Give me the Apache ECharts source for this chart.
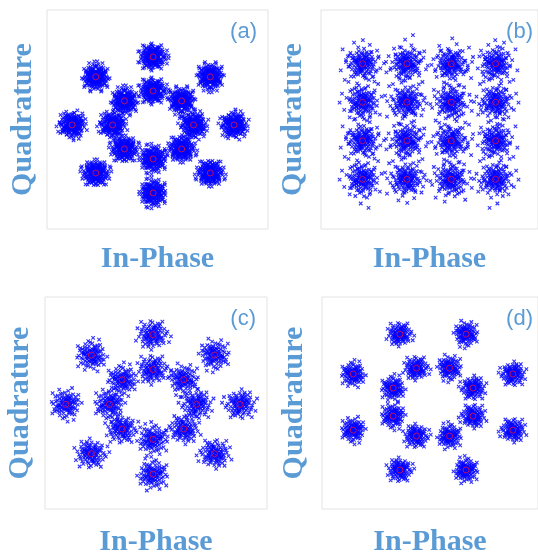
<!DOCTYPE html>
<html>
<head>
<meta charset="utf-8">
<script src="https://cdn.jsdelivr.net/npm/echarts@6/dist/echarts.min.js"></script>
<style>
  html, body { margin: 0; padding: 0; background: #fff; }
  #chart { width: 538px; height: 558px; }
</style>
</head>
<body>
<div id="chart"></div>
<script>
// Ideal constellation points (red circles) for each panel.
const apskPoints = [
  [2, 0], [1.414, 1.414], [0, 2], [-1.414, 1.414], [-2, 0], [-1.414, -1.414], [0, -2], [1.414, -1.414],
  [1, 0], [0.707, 0.707], [0, 1], [-0.707, 0.707], [-1, 0], [-0.707, -0.707], [0, -1], [0.707, -0.707]
];
const qamPoints = [
  [-3, 3], [-1, 3], [1, 3], [3, 3],
  [-3, 1], [-1, 1], [1, 1], [3, 1],
  [-3, -1], [-1, -1], [1, -1], [3, -1],
  [-3, -3], [-1, -3], [1, -3], [3, -3]
];
const apskRotPoints = [
  [1.848, 0.765], [0.765, 1.848], [-0.765, 1.848], [-1.848, 0.765],
  [-1.848, -0.765], [-0.765, -1.848], [0.765, -1.848], [1.848, -0.765],
  [0.924, 0.383], [0.383, 0.924], [-0.383, 0.924], [-0.924, 0.383],
  [-0.924, -0.383], [-0.383, -0.924], [0.383, -0.924], [0.924, -0.383]
];

// Received-symbol scatter around each point, in units of the noise spread.
const noiseOffsets = [
  [0.12,-0.45],[-0.83,0.31],[1.05,0.62],[-0.27,-1.14],[0.58,0.09],[-1.42,-0.36],[0.34,1.27],[-0.66,0.88],[1.73,-0.52],[-0.08,0.17],
  [0.91,-0.97],[-1.16,1.02],[0.22,-0.18],[-0.49,-0.71],[1.31,0.28],[-0.95,-1.38],[0.04,0.76],[0.67,1.63],[-1.87,0.14],[0.43,-1.52],
  [-0.31,0.49],[1.12,-0.23],[-0.72,-0.04],[0.29,0.98],[-1.05,-0.62],[0.81,0.41],[-0.15,-0.89],[1.58,1.11],[-0.58,1.45],[0.17,-0.33],
  [-2.21,-0.48],[0.63,-0.68],[-0.38,0.07],[0.96,0.83],[-1.29,0.57],[0.08,-1.96],[1.41,-1.24],[-0.79,-1.03],[0.51,0.24],[-0.03,1.82],
  [2.14,0.37],[-0.61,-0.27],[0.36,-0.81],[-1.53,0.92],[0.74,-0.11],[-0.19,0.64],[1.19,1.47],[-0.88,0.21],[0.27,-0.57],[-1.11,-1.67],
  [0.55,1.06],[-0.44,-1.21],[1.67,-0.79],[-0.25,0.33],[0.86,0.02],[-1.74,-0.93],[0.11,1.38],[-0.69,0.68],[1.24,-1.61],[-0.12,-0.44],
  [0.47,0.55],[-2.46,1.18],[0.93,-0.41],[-0.33,-1.49],[1.46,0.71],[-0.97,1.71],[0.19,-0.06],[-0.54,-0.58],[2.37,-1.02],[-1.35,0.39],
  [0.71,1.89],[-0.06,-0.97],[1.02,0.49],[-0.84,-0.19],[0.39,-2.17],[-1.63,1.34],[0.14,0.26],[1.88,-0.14],[-0.41,0.97],[0.62,-1.33],
  [-1.21,-1.02],[0.31,0.69],[-0.74,-1.77],[1.36,0.15],[-0.22,-0.31],[0.78,1.24],[-2.02,-0.21],[0.02,0.44],[1.15,-0.63],[-0.57,1.16],
  [2.61,0.94],[-1.44,-2.08],[0.44,-0.29],[-0.91,0.53],[1.53,1.92],[-0.14,-1.18],[0.69,0.37],[-2.75,0.26],[0.25,2.43],[1.81,-2.04]
];

// Noise spread (I, Q) per panel.
const spreadA = [0.14, 0.165];
const spreadB = [0.27, 0.32];
const spreadC = [0.15, 0.18];
const spreadD = [0.12, 0.14];

const panelLabels = ['(a)', '(b)', '(c)', '(d)'];
const xLabel = 'In-Phase';
const yLabel = 'Quadrature';

const TEXT_BLUE = '#5b9bd5';
const MARK_BLUE = '#0000ff';
const CENTER_RED = '#e8123c';
const CROSS = 'path://M0,0L8,8M8,0L0,8';

// The eight symmetries of the square, so neighbouring clusters don't repeat.
const flips = [
  (u, v) => [u, v], (u, v) => [-v, u], (u, v) => [-u, -v], (u, v) => [v, -u],
  (u, v) => [v, u], (u, v) => [-u, v], (u, v) => [-v, -u], (u, v) => [u, -v]
];

// Each layer: which symmetry to start from, how wide, and how many offsets to use.
function cloud(points, spread, layers) {
  const out = [];
  points.forEach((p, i) => {
    layers.forEach(layer => {
      const f = flips[(i + layer.shift) % 8];
      noiseOffsets.slice(0, layer.count).forEach(o => {
        const t = f(o[0], o[1]);
        out.push([p[0] + t[0] * spread[0] * layer.scale, p[1] + t[1] * spread[1] * layer.scale]);
      });
    });
  });
  return out;
}

const panels = [
  { pts: apskPoints, spread: spreadA, rect: [47, 10, 221, 219], x: [-2.62, 2.84], y: [-3.06, 3.38], yGap: 9, xGap: 15,
    layers: [{ shift: 0, scale: 1, count: 100 }, { shift: 3, scale: 1, count: 100 }] },
  { pts: qamPoints, spread: spreadB, rect: [321, 10, 220, 219], x: [-4.87, 4.91], y: [-5.58, 5.79], yGap: 13, xGap: 15,
    layers: [{ shift: 0, scale: 1, count: 100 }, { shift: 5, scale: 2.1, count: 40 }] },
  { pts: apskPoints, spread: spreadC, rect: [45, 297, 222, 219], x: [-2.48, 2.62], y: [-3.0, 3.08], yGap: 10, xGap: 18,
    layers: [{ shift: 0, scale: 1, count: 100 }] },
  { pts: apskRotPoints, spread: spreadD, rect: [322, 297, 219, 219], x: [-2.57, 2.43], y: [-2.91, 2.86], yGap: 13, xGap: 18,
    layers: [{ shift: 0, scale: 1, count: 100 }] }
];

const grid = [], xAxis = [], yAxis = [], series = [], graphic = [];
const nameFont = { fontFamily: 'Liberation Serif', fontWeight: 'bold', fontSize: 30, color: TEXT_BLUE };

panels.forEach((p, k) => {
  const [l, t, w, h] = p.rect;
  grid.push({ left: l, top: t, width: w, height: h, show: true, borderColor: '#e3e3e3', borderWidth: 1, backgroundColor: '#fff' });
  const hidden = { axisLine: { show: false }, axisTick: { show: false }, axisLabel: { show: false }, splitLine: { show: false } };
  xAxis.push(Object.assign({ type: 'value', gridIndex: k, min: p.x[0], max: p.x[1],
    name: xLabel, nameLocation: 'middle', nameGap: p.xGap, nameTextStyle: nameFont }, hidden));
  yAxis.push(Object.assign({ type: 'value', gridIndex: k, min: p.y[0], max: p.y[1],
    name: yLabel, nameLocation: 'middle', nameGap: p.yGap, nameRotate: 90, nameTextStyle: nameFont }, hidden));
  series.push({
    type: 'scatter', xAxisIndex: k, yAxisIndex: k, large: false, progressive: 0, silent: true,
    symbol: CROSS, symbolSize: 3.5,
    itemStyle: { color: MARK_BLUE, borderColor: MARK_BLUE, borderWidth: 1.1 },
    data: cloud(p.pts, p.spread, p.layers)
  });
  series.push({
    type: 'scatter', xAxisIndex: k, yAxisIndex: k, silent: true,
    symbol: 'circle', symbolSize: 6,
    itemStyle: { color: 'transparent', borderColor: CENTER_RED, borderWidth: 1 },
    data: p.pts
  });
  graphic.push({
    type: 'text', right: 538 - (l + w) + (k % 2 ? 8 : 11), top: t + 11,
    style: { text: panelLabels[k], font: '22px "Liberation Sans", Arial, sans-serif', fill: TEXT_BLUE }
  });
});

const chart = echarts.init(document.getElementById('chart'), null, { renderer: 'canvas' });
chart.setOption({ animation: false, backgroundColor: '#fff', grid, xAxis, yAxis, series, graphic });
</script>
</body>
</html>
